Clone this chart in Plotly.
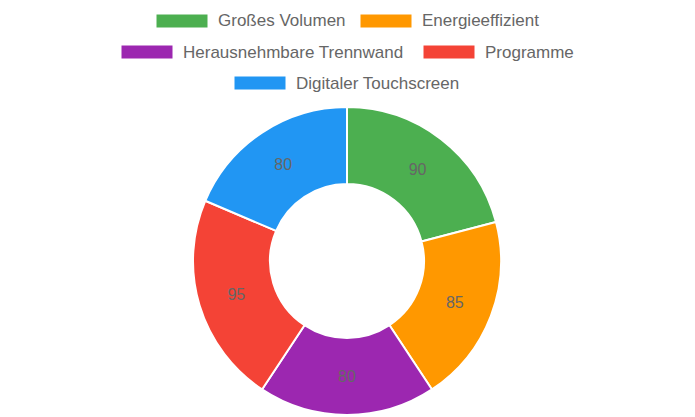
import plotly.graph_objects as go

# Daten
labels = ['Großes Volumen', 'Energieeffizient', 'Herausnehmbare Trennwand',
          'Programme', 'Digitaler Touchscreen']
values = [90, 85, 80, 95, 80]
colors = ['#4CAF50', '#FF9800', '#9C27B0', '#F44336', '#2196F3']

# Seite hat 8px Body-Rand -> Figur entsprechend kleiner und verschoben
OFF = 8
W, H = 695 - OFF, 417 - OFF
# Legenden-Layout (Pixel im Fenster): linke Kante der Farbbox und Zeilenmitte
legend_box_x = [156, 360, 121, 423, 234]
legend_row_y = [21, 21, 52, 52, 83]
BOX_W, BOX_H = 52, 14


def px_x(x):
    return (x - OFF) / W


def px_y(y):
    return 1 - (y - OFF) / H


fig = go.Figure(go.Pie(
    labels=labels,
    values=values,
    hole=0.5,
    sort=False,
    direction='clockwise',
    rotation=0,
    marker=dict(colors=colors, line=dict(color='white', width=2)),
    textinfo='value',
    textposition='inside',
    insidetextorientation='horizontal',
    textfont=dict(family='Liberation Sans, Arial', size=16, color='#666666'),
    domain=dict(x=[px_x(193), px_x(501)], y=[px_y(415), px_y(107)]),
    showlegend=False,
))

# Legende im Chart.js-Stil nachbauen
for lab, col, bx, ry in zip(labels, colors, legend_box_x, legend_row_y):
    fig.add_shape(
        type='rect', xref='paper', yref='paper',
        x0=px_x(bx), x1=px_x(bx + BOX_W),
        y0=px_y(ry + BOX_H / 2), y1=px_y(ry - BOX_H / 2),
        fillcolor=col, line=dict(color='white', width=1),
    )
    fig.add_annotation(
        x=px_x(bx + BOX_W + 10), y=px_y(ry), xref='paper', yref='paper',
        text=lab, showarrow=False, xanchor='left', yanchor='middle',
        xshift=-2,
        font=dict(family='Liberation Sans, Arial', size=17, color='#666666'),
    )

fig.update_layout(
    width=W, height=H,
    margin=dict(l=0, r=0, t=0, b=0),
    paper_bgcolor='white',
    plot_bgcolor='white',
)

fig.write_html('out.html')
